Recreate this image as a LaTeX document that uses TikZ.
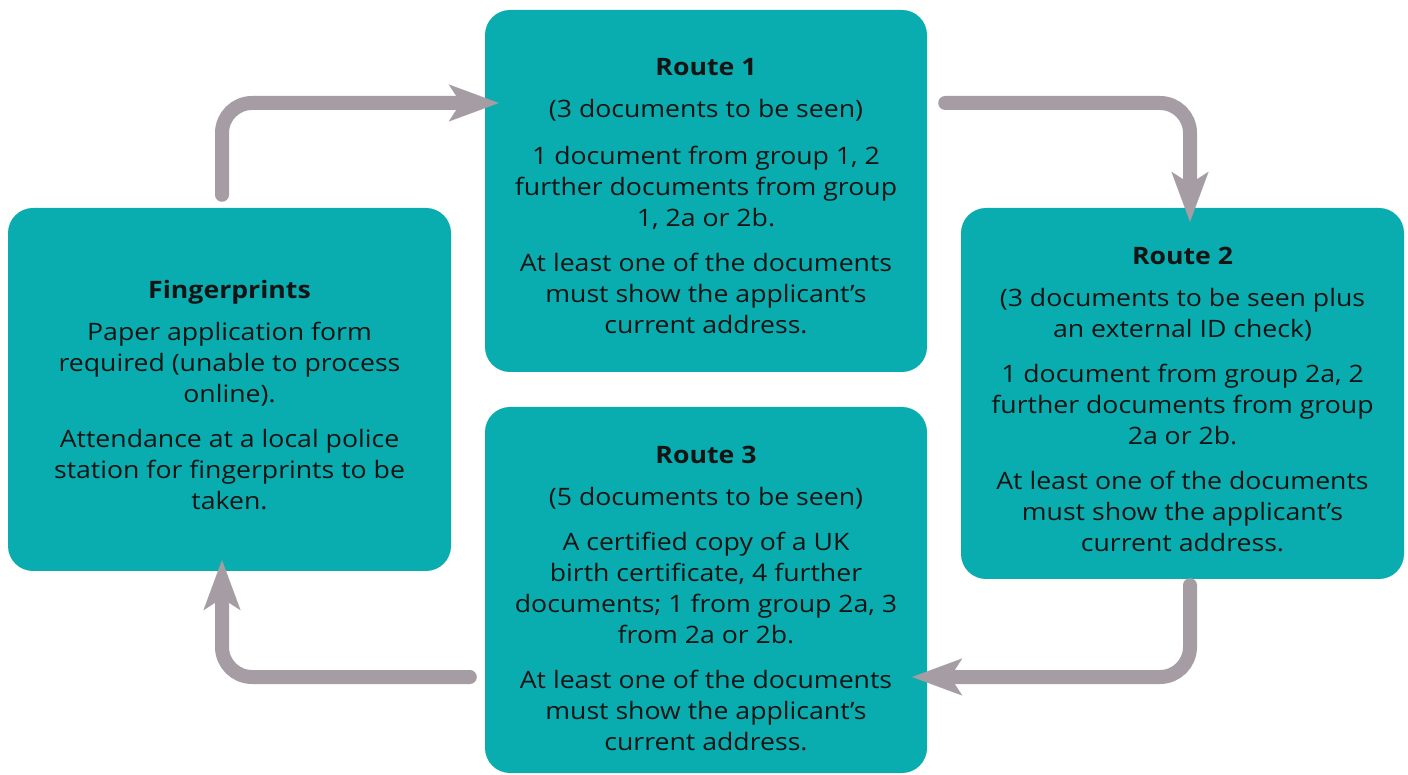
\documentclass[tikz,border=0pt]{standalone}
\usepackage{fontspec}
\setmainfont{Open Sans}[FakeStretch=1.11]
\usetikzlibrary{arrows.meta,calc}
\definecolor{teal1}{HTML}{0AADAF}
\definecolor{arrgray}{HTML}{A59DA3}
\definecolor{txt}{HTML}{141414}
\tikzset{
  box/.style={draw=none,fill=teal1,rounded corners=25pt,inner sep=0pt},
  boxtext/.style={align=center,text=txt,font=\fontsize{24}{31}\selectfont,inner sep=0pt},
  conn/.style={draw=arrgray,line width=14pt,line cap=round,rounded corners=30pt,
    -{Stealth[length=50pt 0 0,width=37pt 0 0,inset=12pt 0 0,line width=0.1pt]}},
}
\newcommand{\ttl}[1]{\textbf{#1}}
\begin{document}
\begin{tikzpicture}[x=1pt,y=1pt]
\useasboundingbox (0,0) rectangle (1408,774);
\fill[white] (0,0) rectangle (1408,774);
% boxes
\node[box,minimum width=443pt,minimum height=363pt] (fp) at (229.5,384.5) {};
\node[box,minimum width=442pt,minimum height=362pt] (r1) at (706,583) {};
\node[box,minimum width=443pt,minimum height=371pt] (r2) at (1182.5,380.5) {};
\node[box,minimum width=442pt,minimum height=366pt] (r3) at (706,184) {};
% texts
\node[boxtext] (fpt) at ($(fp.center)+(0,-5.5)$) {\ttl{Fingerprints}\\[11pt]
Paper application form\\ required (unable to process\\ online).\\[14pt]
Attendance at a local police\\ station for fingerprints to be\\ taken.};
\node[boxtext] (r1t) at ($(r1.center)+(0,-5.5)$) {\ttl{Route 1}\\[11pt]
(3 documents to be seen)\\[16pt]
1 document from group 1, 2\\ further documents from group\\ 1, 2a or 2b.\\[14pt]
At least one of the documents\\ must show the applicant’s\\ current address.};
\node[boxtext] (r2t) at ($(r2.center)+(0,-5.5)$) {\ttl{Route 2}\\[11pt]
(3 documents to be seen plus\\ an external ID check)\\[14pt]
1 document from group 2a, 2\\ further documents from group\\ 2a or 2b.\\[14pt]
At least one of the documents\\ must show the applicant’s\\ current address.};
\node[boxtext] (r3t) at ($(r3.center)+(0,-8)$) {\ttl{Route 3}\\[11pt]
(5 documents to be seen)\\[14pt]
A certified copy of a UK\\ birth certificate, 4 further\\ documents; 1 from group 2a, 3\\ from 2a or 2b.\\[14pt]
At least one of the documents\\ must show the applicant’s\\ current address.};
% connectors
\draw[conn] ([xshift=-7.5pt,yshift=13pt]fp.north) |- ([xshift=14pt,yshift=88pt]r1.west);
\draw[conn] ([xshift=18pt,yshift=88pt]r1.east) -| ([xshift=7.5pt,yshift=-14pt]r2.north);
\draw[conn] ([xshift=7.5pt,yshift=-6pt]r2.south) |- ([xshift=-15pt,yshift=-87pt]r3.east);
\draw[conn] ([xshift=-15pt,yshift=-87pt]r3.west) -| ([xshift=-7.5pt,yshift=11pt]fp.south);
\end{tikzpicture}
\end{document}
